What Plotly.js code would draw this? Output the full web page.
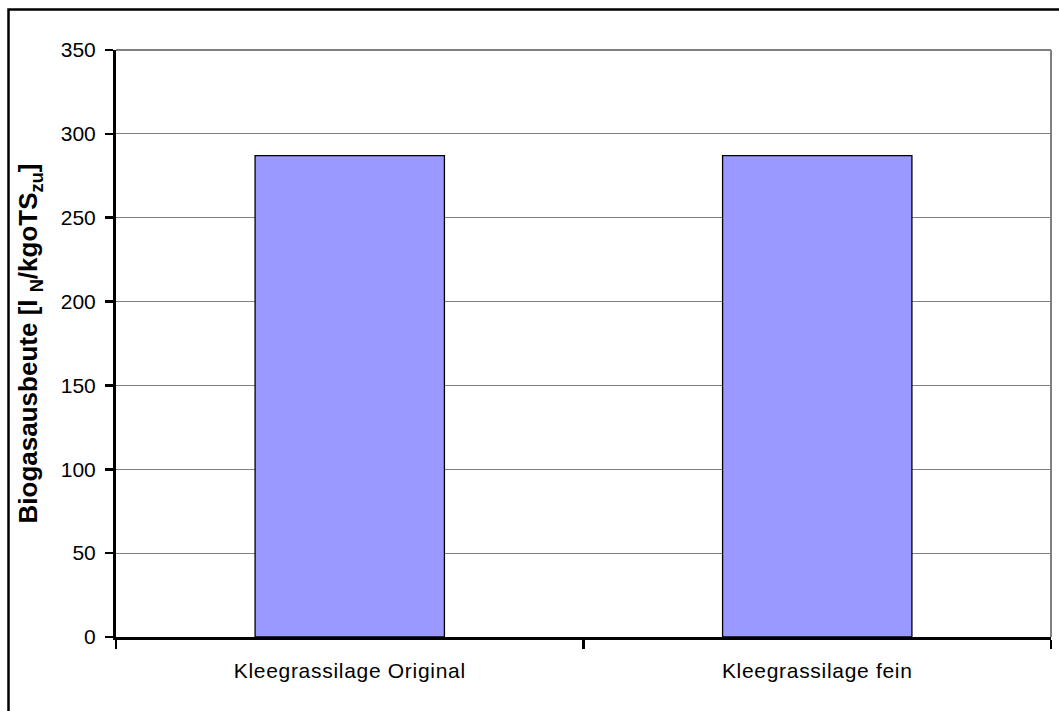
<!DOCTYPE html>
<html>
<head>
<meta charset="utf-8">
<script src="https://cdn.plot.ly/plotly-3.0.1.min.js"></script>
<style>
html, body { margin: 0; padding: 0; background: #ffffff; }
#chart { width: 1059px; height: 711px; }
#chart .xtick text { letter-spacing: 0.7px; }
</style>
</head>
<body>
<div id="chart"></div>
<script>
const categories = ["Kleegrassilage Original", "Kleegrassilage fein"];
const biogasYield = [287, 287];
const yTickValues = [0, 50, 100, 150, 200, 250, 300, 350];

const W = 1059, H = 711;
const m = { l: 116, r: 8, t: 50, b: 74 };
const pw = W - m.l - m.r, ph = H - m.t - m.b;
const px = x => (x - m.l) / pw;
const py = y => (H - m.b - y) / ph;

const trace = {
  type: "bar",
  x: categories,
  y: biogasYield,
  width: 0.405,
  marker: { color: "#9999FF", line: { color: "#000000", width: 1.3 } },
  hoverinfo: "x+y"
};

const layout = {
  width: W, height: H,
  margin: m,
  paper_bgcolor: "#ffffff",
  plot_bgcolor: "#ffffff",
  font: { family: "Liberation Sans, Arial, sans-serif", size: 21, color: "#000000" },
  showlegend: false,
  xaxis: {
    type: "category",
    showline: true, linecolor: "#000000", linewidth: 3,
    ticks: "outside", tickson: "boundaries", ticklen: 9, tickwidth: 2.5, tickcolor: "#000000",
    showgrid: false, zeroline: false,
    tickfont: { size: 21 },
    ticklabelstandoff: 13,
    fixedrange: true
  },
  yaxis: {
    range: [0, 350],
    tickvals: yTickValues,
    showline: true, linecolor: "#000000", linewidth: 3,
    ticks: "outside", ticklen: 8, tickwidth: 2.5, tickcolor: "#000000",
    showgrid: true, gridcolor: "#808080", gridwidth: 1,
    zeroline: false,
    tickfont: { size: 21 },
    ticklabelstandoff: 5,
    title: {
      text: "<b>Biogasausbeute [l <sub>N</sub>/kgoTS<sub>zu</sub>]</b>",
      font: { size: 26 },
      standoff: 16
    },
    fixedrange: true
  },
  shapes: [
    { type: "line", xref: "paper", yref: "paper", x0: 0, x1: 1, y0: 1, y1: 1,
      line: { color: "#808080", width: 2 }, layer: "below" },
    { type: "line", xref: "paper", yref: "paper", x0: 1, x1: 1, y0: 0, y1: 1,
      line: { color: "#808080", width: 2 }, layer: "below" },
    { type: "rect", xref: "paper", yref: "paper",
      x0: px(8.5), x1: px(1070), y0: py(9.5), y1: py(720),
      line: { color: "#000000", width: 2.5 }, fillcolor: "rgba(0,0,0,0)" }
  ]
};

Plotly.newPlot("chart", [trace], layout, { displayModeBar: false, staticPlot: true });
</script>
</body>
</html>
